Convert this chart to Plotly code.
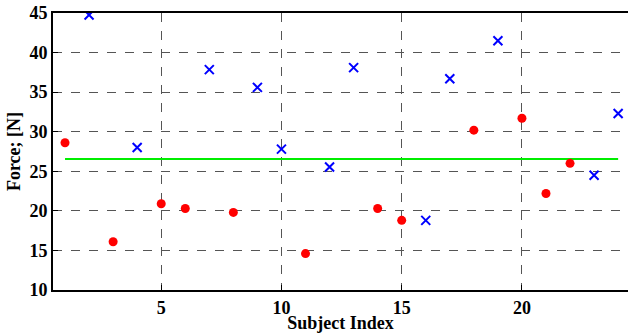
import plotly.graph_objects as go

red_x = [1, 3, 5, 6, 8, 11, 14, 15, 18, 20, 21, 22]
red_y = [28.6, 16.1, 20.9, 20.3, 19.8, 14.6, 20.3, 18.8, 30.2, 31.7, 22.2, 26.0]
blue_x = [2, 4, 7, 9, 10, 12, 13, 16, 17, 19, 23, 24]
blue_y = [44.75, 28.0, 37.85, 35.6, 27.8, 25.55, 38.1, 18.8, 36.7, 41.5, 24.5, 32.3]
line_x = [1, 24]
line_level = 26.55
x_ticks = [5, 10, 15, 20]
y_ticks = [10, 15, 20, 25, 30, 35, 40, 45]

font = dict(family="Liberation Serif", size=18, color="black")

fig = go.Figure()
fig.add_trace(go.Scatter(x=line_x, y=[line_level] * len(line_x), mode="lines",
                         line=dict(color="#00ee00", width=2), showlegend=False))
fig.add_trace(go.Scatter(x=red_x, y=red_y, mode="markers",
                         marker=dict(color="#ff0000", size=9, symbol="circle"),
                         showlegend=False))
fig.add_trace(go.Scatter(x=blue_x, y=blue_y, mode="markers",
                         marker=dict(color="#0000ff", size=9, symbol="x-thin",
                                     line=dict(color="#0000ff", width=2)),
                         showlegend=False))

fig.update_layout(
    width=628, height=333,
    margin=dict(l=53, r=0, t=13, b=43, autoexpand=False),
    paper_bgcolor="white", plot_bgcolor="white",
    font=font,
    xaxis=dict(range=[0.5, 24.41], tickvals=x_ticks, ticktext=[f"<b>{v}</b>" for v in x_ticks],
               showline=True, linecolor="black", linewidth=2, mirror=True,
               ticks="inside", ticklen=5, tickcolor="black",
               showgrid=True, gridcolor="#555555", griddash="dash", gridwidth=1,
               zeroline=False,
               title=dict(text="<b>Subject Index</b>", standoff=0, font=font)),
    yaxis=dict(range=[10, 45], tickvals=y_ticks, ticktext=[f"<b>{v}</b>" for v in y_ticks],
               showline=True, linecolor="black", linewidth=2, mirror=False,
               ticks="inside", ticklen=5, tickcolor="black",
               showgrid=True, gridcolor="#555555", griddash="dash", gridwidth=1,
               zeroline=False,
               title=dict(text="<b>Force; [N]</b>", standoff=4, font=font)),
)

fig.write_html("out.html", config={"displayModeBar": False},
               post_script="document.body.style.margin='0';")
